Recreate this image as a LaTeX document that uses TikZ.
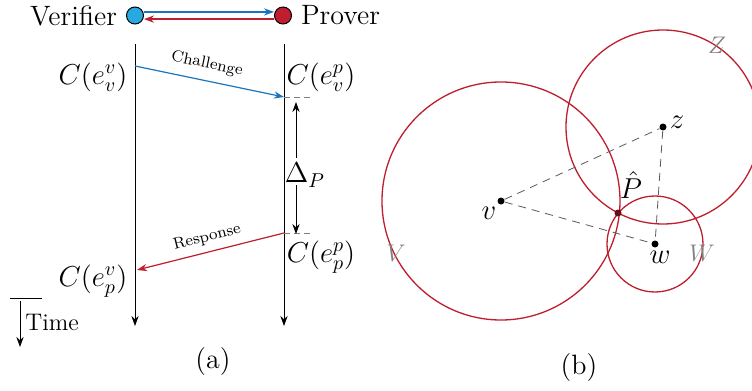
\documentclass[tikz,border=0pt]{standalone}
\usepackage{fontspec}
\usepackage{amsmath,amssymb}
\usetikzlibrary{arrows.meta,positioning,calc}
\definecolor{chblue}{HTML}{1B75BC}
\definecolor{vfill}{HTML}{27AAE1}
\definecolor{rsred}{HTML}{BE1E2D}

\begin{document}
\begin{tikzpicture}[x=0.5pt, y=-0.5pt, >={Stealth[length=5pt,width=3.6pt]},
	   font=\fontsize{14}{16}\selectfont,
	   party/.style={circle, draw=black, line width=0.5pt, minimum size=8.5pt, inner sep=0pt},
	   lbl/.style={inner sep=0pt, font=\fontsize{14}{16}\selectfont},
	   msg/.style={sloped, above, text=black, font=\fontsize{8}{9}\selectfont},
	   tick/.style={densely dashed, gray, line width=0.4pt},
	   ring/.style={draw=rsred, line width=0.65pt},
	   dot/.style={circle, fill=black, inner sep=0pt, minimum size=3.5pt},
	   link/.style={gray!70!black, line width=0.4pt, dash pattern=on 4pt off 3pt},
	   region/.style={inner sep=0pt, text=gray, font=\fontsize{12}{14}\selectfont}]
	  \useasboundingbox (0,0) rectangle (752,391);
	  % (a) challenge / response
	  \node[party, fill=vfill] (vc) at (135,15.5) {};
	  \node[party, fill=rsred] (pc) at (283,15.5) {};
	  \node[left=1pt of vc] (vn) {Verifier};
	  \node[right=1pt of pc] (pn) {Prover};
	  \draw[->, chblue, line width=1pt] ([yshift=1.8pt]vc.east) -- ([yshift=1.8pt]pc.west);
	  \draw[->, rsred, line width=1pt] ([yshift=-1.8pt]pc.west) -- ([yshift=-1.8pt]vc.east);
	  \coordinate (vt) at (135,44); \coordinate (vb) at (135,326);
	  \coordinate (prt) at (284,44); \coordinate (prb) at (284,326);
	  \draw[->] (vt) -- (vb);
	  \draw[->] (prt) -- (prb);
	  \coordinate (cs) at (135,66); \coordinate (ce) at (284,97);
	  \coordinate (rs) at (284,233); \coordinate (re) at (137,270);
	  \draw[->, chblue, line width=0.6pt] (cs) -- node[msg, pos=0.46, yshift=1pt] {Challenge} (ce);
	  \draw[->, rsred, line width=0.6pt] (rs) -- node[msg, pos=0.5] {Response} (re);
	  \draw[tick] (ce) -- ++(30,0);
	  \draw[tick] (rs) -- ++(30,0);
	  \node[lbl] (cvv) at (93,77) {$C(e_v^v)$};
	  \node[lbl] (cvp) at (321,77) {$C(e_v^p)$};
	  \node[lbl] (cpp) at (321,257) {$C(e_p^p)$};
	  \node[lbl] (cpv) at (93,281) {$C(e_p^v)$};
	  \node[inner sep=0pt] (dp) at (305,175) {$\Delta_P$};
	  \coordinate (dt) at (296,102); \coordinate (db) at (296,234);
	  \draw[->] ($(dp.north -| dt)+(0,-5)$) -- (dt);
	  \draw[->] ($(dp.south -| db)+(0,-2)$) -- (db);
	  \coordinate (tl) at (10,298); \coordinate (tr) at (42,298);
	  \draw (tl) -- (tr);
	  \coordinate (ta) at (20,301); \coordinate (tb) at (20,347);
	  \draw[->] (ta) -- (tb);
	  \node[right=1.5pt, inner sep=0pt, font=\fontsize{12}{14}\selectfont] (tm) at (22,322) {Time};
	  \node (la) at (213,362) {(a)};
	  % (b) three spheres meeting at P
	  \node[dot] (vd) at (501,201) {};
	  \node[dot] (zd) at (663,127) {};
	  \node[dot] (wd) at (655,244) {};
	  \draw[ring] (vd.center) circle[radius=59.5pt];
	  \draw[ring] (zd.center) circle[radius=48.5pt];
	  \draw[ring] (wd.center) circle[radius=24pt];
	  \draw[link] (vd) -- (zd);
	  \draw[link] (vd) -- (wd);
	  \draw[link] (zd) -- (wd);
	  \node[dot, fill=rsred!55!black] (ph) at (618,213) {};
	  \node[inner sep=0pt] (vl) at (489,213) {$v$};
	  \node[inner sep=0pt] (zl) at (677,122) {$z$};
	  \node[inner sep=0pt] (wl) at (660,257) {$w$};
	  \node[inner sep=0pt] (pl) at (631,185) {$\hat{P}$};
	  \node[region] (Vl) at (396,253) {$V$};
	  \node[region] (Wl) at (702,253) {$W$};
	  \node[region] (Zl) at (717,45) {$Z$};
	  \node (lb) at (579,368) {(b)};
	\end{tikzpicture}
\end{document}
